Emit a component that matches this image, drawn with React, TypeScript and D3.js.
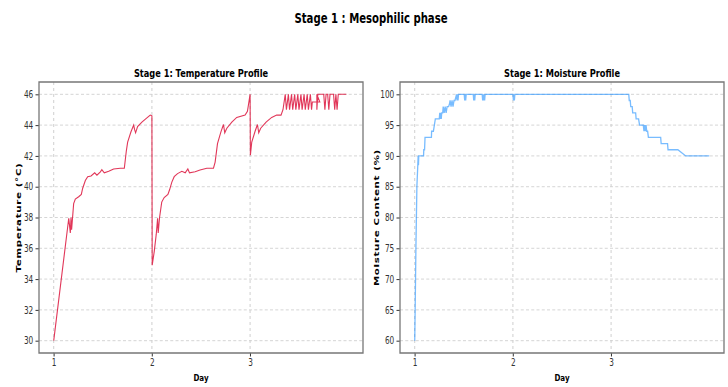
import { useEffect, useRef } from 'react';
import * as d3 from 'd3';

// ---------- data ----------
const tempDay = [
  1.0, 1.153, 1.169, 1.176, 1.182, 1.203, 1.22, 1.254, 1.281, 1.295, 1.322, 1.346, 1.38, 1.417, 1.44,
  1.475, 1.49, 1.515, 1.56, 1.61, 1.678, 1.719, 1.739, 1.753, 1.786, 1.814, 1.824, 1.834, 1.854, 1.898,
  1.949, 1.983, 2.0, 2.003, 2.024, 2.044, 2.058, 2.064, 2.078, 2.1, 2.125, 2.163, 2.18, 2.203, 2.227,
  2.261, 2.305, 2.339, 2.366, 2.383, 2.44, 2.49, 2.559, 2.627, 2.644, 2.668, 2.702, 2.729, 2.742, 2.763,
  2.814, 2.864, 2.949, 2.973, 3.0, 3.003, 3.017, 3.051, 3.075, 3.088, 3.108, 3.163, 3.22, 3.271, 3.315,
  3.335, 3.358, 3.37, 3.39, 3.402, 3.422, 3.434, 3.454, 3.466, 3.486, 3.498, 3.518, 3.53, 3.55, 3.562,
  3.582, 3.594, 3.614, 3.626, 3.634, 3.71, 3.68, 3.68, 3.69, 3.75, 3.762, 3.774, 3.79, 3.802, 3.814,
  3.85, 3.862, 3.874, 3.886, 3.898, 3.98,
];
const tempValue = [
  30.0, 37.95, 37.0, 38.0, 37.2, 38.9, 39.2, 39.35, 39.5, 39.9, 40.4, 40.65, 40.7, 40.9, 40.75,
  40.97, 41.1, 40.9, 41.0, 41.15, 41.2, 41.2, 42.3, 42.9, 43.55, 44.0, 43.7, 43.5, 43.9, 44.2,
  44.47, 44.65, 44.6, 34.9, 35.8, 36.9, 37.95, 37.0, 38.0, 39.0, 39.3, 39.5, 39.8, 40.3, 40.65,
  40.85, 41.0, 40.9, 41.15, 40.9, 40.97, 41.08, 41.2, 41.2, 41.6, 42.8, 43.55, 44.04, 43.5, 43.8,
  44.2, 44.5, 44.65, 44.9, 46.0, 42.05, 42.9, 43.6, 44.04, 43.5, 43.8, 44.2, 44.5, 44.65, 44.65,
  45.0, 46.0, 45.0, 46.0, 45.0, 46.0, 45.0, 46.0, 45.0, 46.0, 45.0, 46.0, 45.0, 46.0, 45.0,
  46.0, 45.0, 46.0, 45.0, 45.5, 45.5, 46.0, 45.0, 46.0, 46.0, 45.0, 46.0, 46.0, 45.0, 46.0,
  46.0, 45.0, 46.0, 45.0, 46.0, 46.0,
];

const moistureDay = [
  1.0, 1.006, 1.012, 1.022, 1.03, 1.035, 1.038, 1.041, 1.045, 1.09, 1.092, 1.1, 1.105, 1.17, 1.172,
  1.19, 1.2, 1.21, 1.25, 1.255, 1.26, 1.265, 1.27, 1.275, 1.285, 1.29, 1.3, 1.31, 1.32, 1.33,
  1.345, 1.355, 1.36, 1.37, 1.38, 1.39, 1.4, 1.41, 1.426, 1.431, 1.436, 1.441, 1.446, 1.451, 1.504,
  1.509, 1.514, 1.519, 1.524, 1.529, 1.596, 1.601, 1.606, 1.611, 1.616, 1.621, 1.687, 1.692, 1.697,
  1.702, 1.707, 1.712, 1.717, 2.0, 2.005, 2.01, 2.015, 2.02, 2.025, 3.18, 3.185, 3.195, 3.2, 3.215,
  3.22, 3.25, 3.255, 3.28, 3.29, 3.3, 3.328, 3.335, 3.342, 3.349, 3.356, 3.363, 3.372, 3.38, 3.505,
  3.51, 3.575, 3.58, 3.68, 3.76, 4.0,
];
const moistureValue = [
  60, 67, 75, 85, 88, 90, 88.5, 90, 90, 90, 91, 91, 93, 93, 94,
  94, 95, 96, 96, 97, 96, 97, 96, 97, 97, 98, 97, 98, 97, 98,
  98, 98.5, 99, 98, 99, 98, 99, 99, 100, 99, 100, 99, 100, 100, 100,
  99, 100, 99, 100, 100, 100, 99, 100, 99, 100, 100, 100, 99, 100,
  99, 100, 99, 100, 100, 99, 100, 99, 100, 100, 100, 99, 99, 98, 98,
  97, 97, 96, 96, 95, 95, 95, 94, 95, 94, 95, 94, 94, 93, 93,
  92, 92, 91, 91, 90, 90,
];

const dayTicks = [1, 2, 3];
const tempTicks = [30, 32, 34, 36, 38, 40, 42, 44, 46];
const moistureTicks = [60, 65, 70, 75, 80, 85, 90, 95, 100];

// the figure is horizontally squeezed; draw in wide units and squash
const SQ = 0.75;
const W = 728 / SQ;
const H = 387;

export default function App() {
  const svgRef = useRef<SVGSVGElement>(null);

  useEffect(() => {
    const svg = d3.select(svgRef.current);
    svg.selectAll('*').remove();

    svg.append('rect').attr('width', W).attr('height', H).attr('fill', '#fff');

    svg.append('text')
      .attr('x', 371 / SQ).attr('y', 23)
      .attr('text-anchor', 'middle')
      .style('font-family', 'DejaVu Sans').style('font-weight', 'bold').style('font-size', '13.5px')
      .text('Stage 1 : Mesophilic phase');

    const panels = [
      {
        left: 39 / SQ, right: 363 / SQ, title: 'Stage 1: Temperature Profile',
        ylabel: 'Temperature (°C)', ylabelX: 20.6 / SQ,
        days: tempDay, values: tempValue, yDomain: [29.2, 46.8], yTicks: tempTicks,
        color: '#dc143c', opacity: 0.85, width: 1.1,
      },
      {
        left: 400 / SQ, right: 724 / SQ, title: 'Stage 1: Moisture Profile',
        ylabel: 'Moisture Content (%)', ylabelX: 378.6 / SQ,
        days: moistureDay, values: moistureValue, yDomain: [58, 102], yTicks: moistureTicks,
        color: '#1e90ff', opacity: 0.6, width: 1.3,
      },
    ];
    const top = 82;
    const bottom = 353;

    panels.forEach((p) => {
      const x = d3.scaleLinear().domain([0.85, 4.15]).range([p.left, p.right]);
      const y = d3.scaleLinear().domain(p.yDomain).range([bottom, top]);
      const g = svg.append('g');

      // grid
      g.selectAll('.gx').data(dayTicks).enter().append('line')
        .attr('x1', (d) => x(d)).attr('x2', (d) => x(d))
        .attr('y1', top).attr('y2', bottom)
        .attr('stroke', '#cfcfcf').attr('stroke-dasharray', '3,3')
        .attr('vector-effect', 'non-scaling-stroke');
      g.selectAll('.gy').data(p.yTicks).enter().append('line')
        .attr('x1', p.left).attr('x2', p.right)
        .attr('y1', (d) => y(d)).attr('y2', (d) => y(d))
        .attr('stroke', '#cfcfcf').attr('stroke-dasharray', '4,3');

      // line
      const line = d3.line<number>()
        .x((_, i) => x(p.days[i]))
        .y((d) => y(d));
      g.append('path')
        .datum(p.values)
        .attr('d', line)
        .attr('fill', 'none')
        .attr('stroke', p.color)
        .attr('stroke-opacity', p.opacity)
        .attr('stroke-width', p.width)
        .attr('vector-effect', 'non-scaling-stroke');

      // axes
      const xAxis = g.append('g')
        .attr('transform', `translate(0,${bottom})`)
        .call(d3.axisBottom(x).tickValues(dayTicks).tickFormat(d3.format('d')).tickSizeOuter(0).tickSize(3.5).tickPadding(3));
      const yAxis = g.append('g')
        .attr('transform', `translate(${p.left},0)`)
        .call(d3.axisLeft(y).tickValues(p.yTicks).tickFormat(d3.format('d')).tickSizeOuter(0).tickSize(3.5 / SQ).tickPadding(3));
      [xAxis, yAxis].forEach((a) => {
        a.select('.domain').remove();
        a.selectAll('line').attr('stroke', '#333').attr('vector-effect', 'non-scaling-stroke');
        a.selectAll('text')
          .attr('fill', '#333')
          .style('font-family', 'DejaVu Sans')
          .style('font-size', '9.8px');
      });

      // frame
      g.append('rect')
        .attr('x', p.left).attr('y', top)
        .attr('width', p.right - p.left).attr('height', bottom - top)
        .attr('fill', 'none').attr('stroke', '#777').attr('stroke-width', 1.3)
        .attr('vector-effect', 'non-scaling-stroke');

      // titles and labels
      g.append('text')
        .attr('x', (p.left + p.right) / 2).attr('y', 77)
        .attr('text-anchor', 'middle')
        .style('font-family', 'DejaVu Sans').style('font-weight', 'bold').style('font-size', '11px')
        .text(p.title);
      g.append('text')
        .attr('x', (p.left + p.right) / 2).attr('y', 381)
        .attr('text-anchor', 'middle')
        .style('font-family', 'DejaVu Sans').style('font-weight', 'bold').style('font-size', '9.5px')
        .text('Day');
      g.append('text')
        .attr('transform', `translate(${p.ylabelX},${(top + bottom) / 2}) rotate(-90)`)
        .attr('text-anchor', 'middle')
        .style('font-family', 'DejaVu Sans').style('font-weight', 'bold').style('font-size', '10.2px')
        .style('letter-spacing', '0.7px')
        .text(p.ylabel);
    });
  }, []);

  return (
    <svg
      ref={svgRef}
      width={728}
      height={387}
      viewBox={`0 0 ${W} ${H}`}
      preserveAspectRatio="none"
      style={{ position: 'absolute', left: 0, top: 0, display: 'block' }}
    />
  );
}
